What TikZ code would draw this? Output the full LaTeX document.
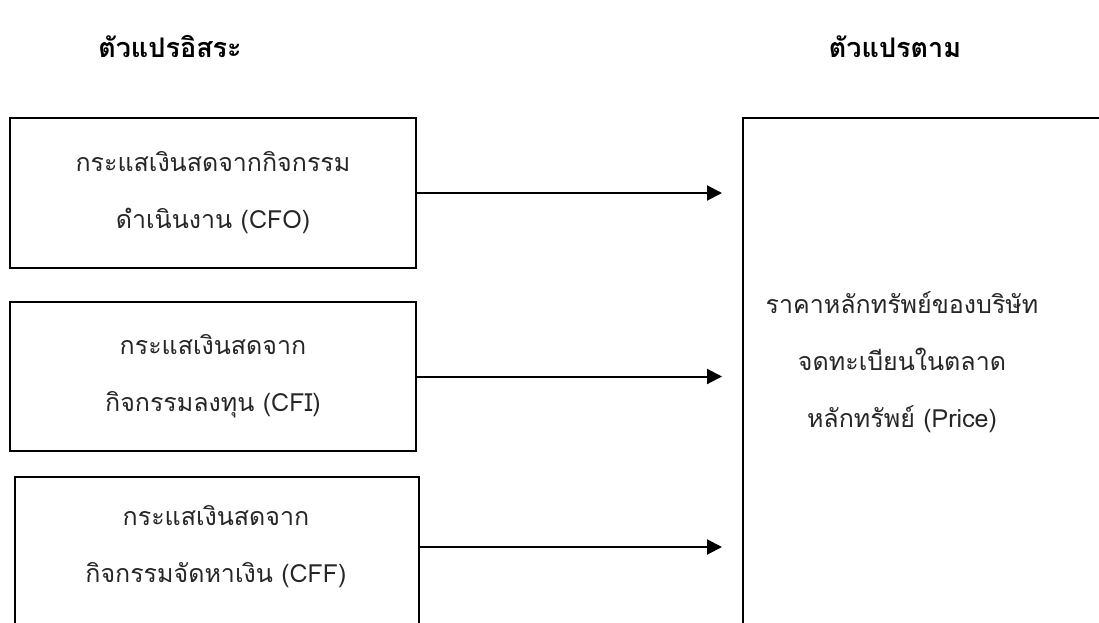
\documentclass[tikz,border=0pt]{standalone}
\usepackage{fontspec}
\newfontfamily\thai[Script=Thai]{Loma}
\usetikzlibrary{arrows.meta,calc}
\begin{document}
\begin{tikzpicture}[x=1pt,y=-1pt,
  box/.style={draw=black,line width=2pt,inner sep=0pt,align=center},
  lbl/.style={font=\thai\fontsize{25}{57}\selectfont,align=center,text=black!85},
  hdr/.style={font=\thai\bfseries\fontsize{27}{30}\selectfont},
  arr/.style={line width=2pt,-{Triangle[length=15pt,width=15pt]}}]
\useasboundingbox (0,0) rectangle (1099,623);
\clip (0,0) rectangle (1099,623);
% headers
\node[hdr] (h1) at (170,47) {ตัวแปรอิสระ};
\node[hdr] (h2) at (895,47) {ตัวแปรตาม};
% left boxes
\node[box,minimum width=406pt,minimum height=150pt,anchor=north west] (b1) at (9,117) {};
\node[lbl] (t1) at (b1.center) {กระแสเงินสดจากกิจกรรม\\ดำเนินงาน (CFO)};
\node[box,minimum width=406pt,minimum height=149pt,anchor=north west] (b2) at (9,301) {};
\node[lbl] (t2) at (b2.center) {กระแสเงินสดจาก\\กิจกรรมลงทุน (CFI)};
\node[box,minimum width=404pt,minimum height=200pt,anchor=north west] (b3) at (14,476) {};
\node[lbl] (t3) at (216,547) {กระแสเงินสดจาก\\กิจกรรมจัดหาเงิน (CFF)};
% right box
\node[box,minimum width=420pt,minimum height=560pt,anchor=north west] (rb) at (742,117) {};
\node[lbl] (rt) at (902,362) {ราคาหลักทรัพย์ของบริษัท\\จดทะเบียนในตลาด\\หลักทรัพย์ (Price)};
% arrows
\coordinate (s3) at (418,547);
\draw[arr] (b1.east) -- ($(b1.east -| rb.west)+(-20,0)$);
\draw[arr] (b2.east) -- ($(b2.east -| rb.west)+(-20,0)$);
\draw[arr] (s3) -- ($(s3 -| rb.west)+(-20,0)$);
\end{tikzpicture}
\end{document}
